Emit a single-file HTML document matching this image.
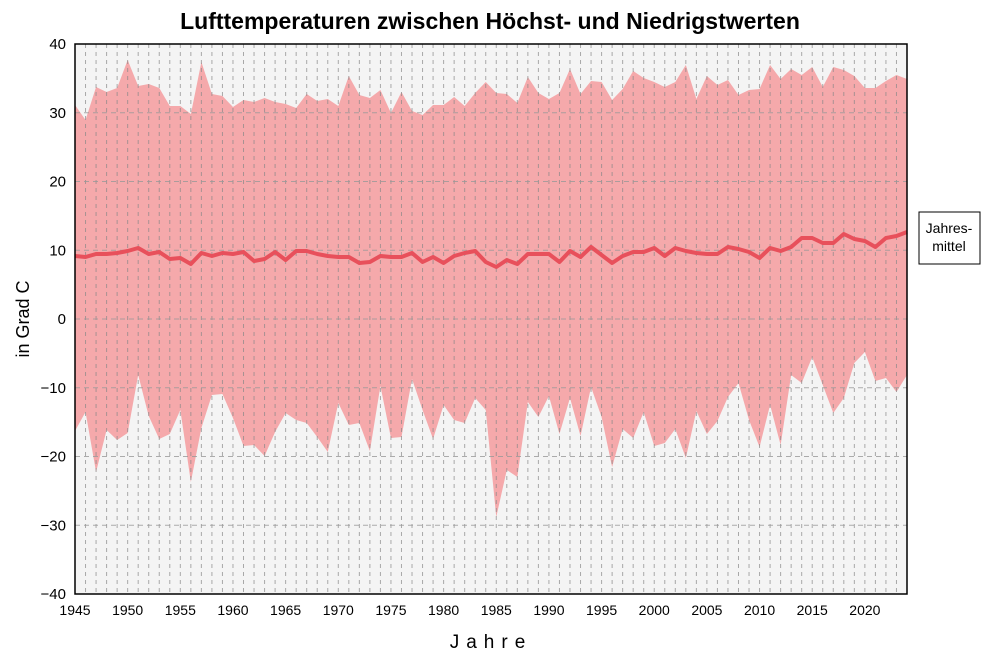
<!DOCTYPE html>
<html><head><meta charset="utf-8"><style>
body{margin:0;background:#fff;}
svg text{font-family:"Liberation Sans",sans-serif;}
</style></head><body>
<svg id="s" width="1000" height="664" xmlns="http://www.w3.org/2000/svg">
<rect x="75" y="44" width="832" height="550" fill="#f4f4f4"/>
<path id="area" fill="#f5a9ab" stroke="none"/>
<g id="grid"></g>
<g id="hgrid"></g>
<path id="mean" fill="none" stroke="#e8505b" stroke-width="4" stroke-linejoin="round"/>
<rect x="75" y="44" width="832" height="550" fill="none" stroke="#000" stroke-width="1.5"/>
<text x="490" y="29" text-anchor="middle" font-size="23" font-weight="bold">Lufttemperaturen zwischen Höchst- und Niedrigstwerten</text>
<g id="ylab" font-size="15" text-anchor="end"></g>
<g id="xlab" font-size="14" text-anchor="middle"></g>
<text x="491" y="648" text-anchor="middle" font-size="19" letter-spacing="7">Jahre</text>
<text transform="translate(29,319) rotate(-90)" text-anchor="middle" font-size="18">in Grad C</text>
<rect x="919" y="212" width="61" height="52" fill="#fff" stroke="#000" stroke-width="1"/>
<text x="949" y="233" text-anchor="middle" font-size="14">Jahres-</text>
<text x="949" y="251" text-anchor="middle" font-size="14">mittel</text>
</svg>
<script>
var mx=[105,120,87,92,88,60,86,84,88,106,106,114,62,94,96,107,100,102,98,102,104,108,94,101,99,106,76,95,98,90,113,92,111,115,105,105,97,106,93,82,93,94,103,77,93,99,93,69,94,81,82,100,89,71,78,82,87,82,65,99,76,85,80,95,90,89,65,79,69,75,67,87,67,70,76,88,88,81,75,79];
var mn=[431,412,472,430,440,433,375,416,439,434,410,482,428,395,394,418,446,445,456,432,413,420,423,437,452,403,425,423,451,386,438,437,379,410,439,405,420,423,398,410,517,470,477,402,417,396,434,398,436,387,417,467,429,438,412,446,443,429,458,411,434,421,397,383,420,447,405,445,375,383,357,385,413,398,363,352,381,378,392,375];
var me=[256,257,254,254,253,251,248,254,252,259,258,264,253,256,253,254,252,261,259,252,260,251,251,254,256,257,257,263,262,256,257,257,253,262,257,263,256,253,251,262,267,260,264,254,254,254,262,251,257,247,255,263,256,252,252,248,256,248,251,253,254,254,247,249,252,258,248,251,247,238,238,243,243,234,239,241,247,238,236,232];
var ns="http://www.w3.org/2000/svg";
function X(i){return 75+i*832/79;}
function el(t,a,p,txt){var e=document.createElementNS(ns,t);for(var k in a)e.setAttribute(k,a[k]);if(txt!=null)e.textContent=txt;document.getElementById(p).appendChild(e);}
for(var i=1;i<79;i++)el("line",{x1:X(i),x2:X(i),y1:44,y2:594,stroke:"#888","stroke-opacity":0.7,"stroke-width":1,"stroke-dasharray":"4,4"},"grid");
for(var v=-30;v<=30;v+=10){var y=319-v*6.875;el("line",{x1:75,x2:907,y1:y,y2:y,stroke:"#999","stroke-opacity":0.8,"stroke-width":1,"stroke-dasharray":"5,4"},"hgrid");}
for(var v=-40;v<=40;v+=10){var y=319-v*6.875;el("text",{x:66,y:y+5},"ylab",(v<0?"\u2212":"")+Math.abs(v));}
for(var yr=1945;yr<=2020;yr+=5)el("text",{x:X(yr-1945),y:615},"xlab",yr);
var d="M"+X(0)+","+mx[0];for(i=1;i<80;i++)d+="L"+X(i)+","+mx[i];for(i=79;i>=0;i--)d+="L"+X(i)+","+mn[i];d+="Z";
document.getElementById("area").setAttribute("d",d);
var m="M"+X(0)+","+me[0];for(i=1;i<80;i++)m+="L"+X(i)+","+me[i];
document.getElementById("mean").setAttribute("d",m);
</script>
</body></html>
